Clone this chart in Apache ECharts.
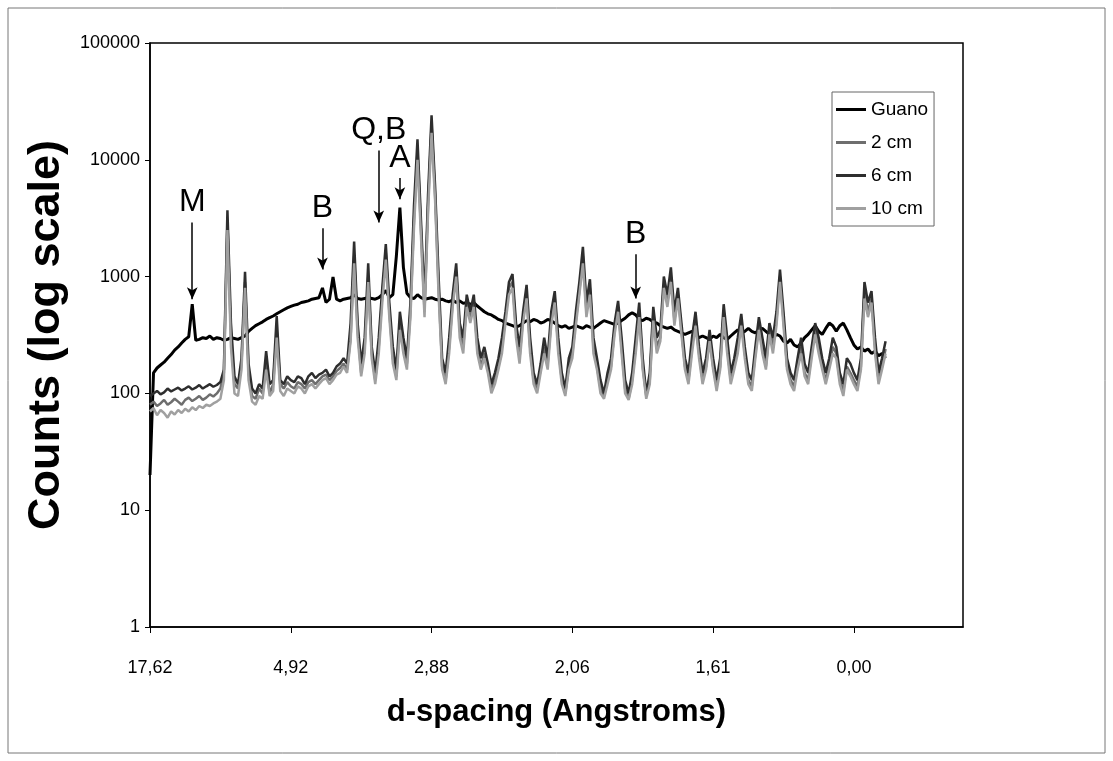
<!DOCTYPE html>
<html><head><meta charset="utf-8">
<script src="https://cdn.jsdelivr.net/npm/echarts@6/dist/echarts.min.js"></script>
<style>html,body{margin:0;padding:0;background:#fff}#c{width:1113px;height:761px}</style>
</head><body><div id="c"></div>
<script>
const dLabels = ['17,62','4,92','2,88','2,06','1,61','0,00'];
const labelStep = 40;
const categoryCount = 232;
const seriesNames = ['Guano','2 cm','6 cm','10 cm'];

const guano = [20,150,165,175,185,200,215,235,250,270, 290,305,580,285,290,300,295,310,290,300, 295,285,290,300,295,290,300,310,340,360, 380,395,410,430,445,460,480,500,520,540, 555,570,580,600,610,620,640,650,660,800, 600,640,990,640,620,640,650,660,700,650, 640,650,660,650,640,660,700,760,660,700, 1500,3900,1200,720,660,650,700,660,640,650, 660,640,630,640,620,610,630,600,620,590, 600,580,600,560,530,500,480,470,450,430, 420,400,390,380,370,380,400,420,410,430, 420,400,410,430,420,400,380,370,380,360, 370,380,370,360,380,370,360,380,400,420, 410,400,390,400,420,440,470,490,470,430, 420,440,430,410,400,380,370,360,370,350, 340,330,320,330,340,320,300,310,300,290, 310,300,320,300,290,310,330,350,330,340, 360,340,330,350,360,340,320,300,320,310, 280,270,290,260,250,270,300,320,350,380, 340,320,360,400,380,340,380,400,350,300, 260,240,250,230,240,220,230,210,220,200];

const cm2 = [80,85,78,82,88,80,84,90,85,80, 88,92,86,90,95,88,92,98,94,100, 110,150,3000,300,120,110,180,900,150,95, 90,110,100,180,100,120,350,120,110,125, 115,110,125,120,110,125,130,120,130,140, 145,130,140,155,165,180,160,300,1500,350, 150,250,1000,220,130,250,700,1600,500,200, 140,400,250,180,500,3000,12000,2500,500,4000, 20000,5000,800,170,130,250,600,1100,350,250, 600,450,600,250,170,220,160,110,130,170, 250,450,800,900,350,200,450,700,250,130, 110,160,250,180,420,650,250,130,100,170, 220,420,750,1500,500,800,250,170,110,95, 130,170,350,550,250,110,90,130,250,500, 170,95,130,480,250,300,850,600,1000,420, 700,350,170,130,250,420,220,130,170,300, 170,115,170,500,250,130,170,250,420,220, 130,115,220,380,250,170,350,250,420,1000, 420,170,130,115,170,250,150,130,220,350, 250,170,130,170,250,220,130,105,170,150, 130,115,170,750,500,650,250,130,170,240];

const cm6 = [95,100,105,98,102,110,104,108,112,106, 110,115,108,112,118,110,115,120,114,118, 125,160,3700,400,140,120,200,1100,180,110, 100,120,110,230,120,130,460,130,120,140, 130,125,140,135,120,140,150,135,145,150, 160,140,150,170,180,200,180,400,2000,400, 180,300,1300,250,150,300,800,1900,600,250, 160,500,300,200,600,4000,15000,3000,600,5000, 24000,6000,1000,200,150,300,700,1300,400,300, 700,500,700,300,200,250,180,120,150,200, 300,500,900,1050,400,250,500,850,300,150, 120,180,300,200,500,750,300,150,110,200, 250,500,900,1800,600,950,300,200,130,100, 150,200,400,620,300,130,100,150,300,600, 200,100,150,550,300,350,1000,700,1200,500, 800,400,200,150,300,500,250,150,200,350, 200,130,200,580,300,150,200,300,480,250, 150,130,250,450,300,200,400,300,500,1150, 500,200,150,130,200,300,180,150,250,400, 300,200,150,200,300,250,150,120,200,180, 150,130,200,900,600,750,300,150,200,280];

const cm10 = [70,75,65,72,68,62,70,66,72,68, 74,70,76,72,78,75,80,78,82,85, 90,130,2500,250,100,95,160,800,130,85, 80,95,90,160,95,105,300,105,95,110, 105,100,115,110,100,115,120,110,120,130, 135,120,130,145,150,170,150,280,1300,300, 140,220,900,200,120,220,600,1400,450,180, 130,350,220,160,450,2600,10000,2200,450,3500, 17000,4500,700,160,120,220,550,1000,300,220, 550,400,550,220,160,200,150,100,120,160, 220,400,700,800,300,180,400,650,220,120, 100,150,220,160,380,600,220,120,95,160, 200,380,700,1300,450,700,220,160,100,90, 120,160,320,500,220,100,88,120,220,450, 160,90,120,420,220,280,800,550,900,380, 650,320,160,120,220,380,200,120,160,280, 160,105,160,450,220,120,160,220,380,200, 120,105,200,350,220,160,320,220,380,900, 380,160,120,105,160,220,140,120,200,320, 220,160,120,160,220,200,120,95,160,140, 120,105,160,650,450,600,220,120,160,220];

const annotations = [
  {text:'M', index:12, from:2900, to:640},
  {text:'B', index:49, from:2600, to:1150},
  {text:'Q,B', index:65, from:12000, to:2900},
  {text:'A', index:71, from:7000, to:4600},
  {text:'B', index:138, from:1550, to:650}
];

const categories = Array.from({length: categoryCount}, (_, i) => String(i));
const sans = "'Liberation Sans',Arial,sans-serif";
const colors = ['#000000','#6e6e6e','#2e2e2e','#a0a0a0'];
const widths = [3, 2.5, 2.5, 2.5];
const seriesData = [guano, cm2, cm6, cm10];

const chart = echarts.init(document.getElementById('c'), null, {renderer:'canvas'});
const series = seriesNames.map((name, k) => ({
  name, type:'line', data: seriesData[k], symbol:'none', showSymbol:false,
  animation:false,
  lineStyle:{color: colors[k], width: widths[k]},
  itemStyle:{color: colors[k]},
  markLine: k === 0 ? {
    silent:true, animation:false,
    symbol:['none','arrow'], symbolSize:10,
    lineStyle:{color:'#000', width:1.5, type:'solid'},
    label:{show:true, position:'start', distance:4, fontSize:32, color:'#000', fontFamily:sans},
    data: annotations.map(a => [
      {coord:[a.index, a.from], name:a.text, symbol:'none', label:{formatter:a.text}},
      {coord:[a.index, a.to], symbol:'arrow', symbolSize:[8, 12]}
    ])
  } : undefined
}));

chart.setOption({
  animation:false,
  backgroundColor:'#fff',
  grid:{left:150, right:150, top:43, bottom:134, show:true, borderColor:'#000', borderWidth:1.5, outerBoundsMode:'none', containLabel:false},
  legend:{
    orient:'vertical', left:832, top:92, padding:[8,6,8,4], itemGap:14,
    itemWidth:30, itemHeight:3, backgroundColor:'#fff', borderColor:'#666', borderWidth:1,
    textStyle:{fontSize:19, color:'#000', fontFamily:sans},
    data: seriesNames.map(n => ({name:n, icon:'rect'}))
  },
  xAxis:{
    type:'category', data:categories, boundaryGap:false,
    axisLine:{lineStyle:{color:'#000', width:1.5}},
    axisTick:{interval:labelStep-1, length:6, lineStyle:{color:'#000'}},
    axisLabel:{interval:labelStep-1, margin:32, fontSize:18, color:'#000', fontFamily:sans,
      formatter:(v, i) => (i % labelStep === 0 && dLabels[i/labelStep] !== undefined) ? dLabels[i/labelStep] : ''},
    name:'d-spacing (Angstroms)', nameLocation:'middle', nameGap:70,
    nameTextStyle:{fontSize:31, fontWeight:'bold', color:'#000', fontFamily:sans}
  },
  yAxis:{
    type:'log', logBase:10, min:1, max:100000,
    axisLine:{show:true, lineStyle:{color:'#000', width:1.5}},
    axisTick:{show:true, length:5, lineStyle:{color:'#000'}},
    splitLine:{show:false}, minorTick:{show:false},
    axisLabel:{fontSize:18, color:'#000', margin:10, fontFamily:sans, formatter:(v) => String(v)},
    name:'Counts (log scale)', nameLocation:'middle', nameGap:71,
    nameTextStyle:{fontSize:45, fontWeight:'bold', color:'#000', fontFamily:sans}
  },
  graphic:[{type:'rect', silent:true, z:-1, shape:{x:8, y:8, width:1097, height:745}, style:{fill:'none', stroke:'#777', lineWidth:1}}],
  series
});
</script></body></html>
